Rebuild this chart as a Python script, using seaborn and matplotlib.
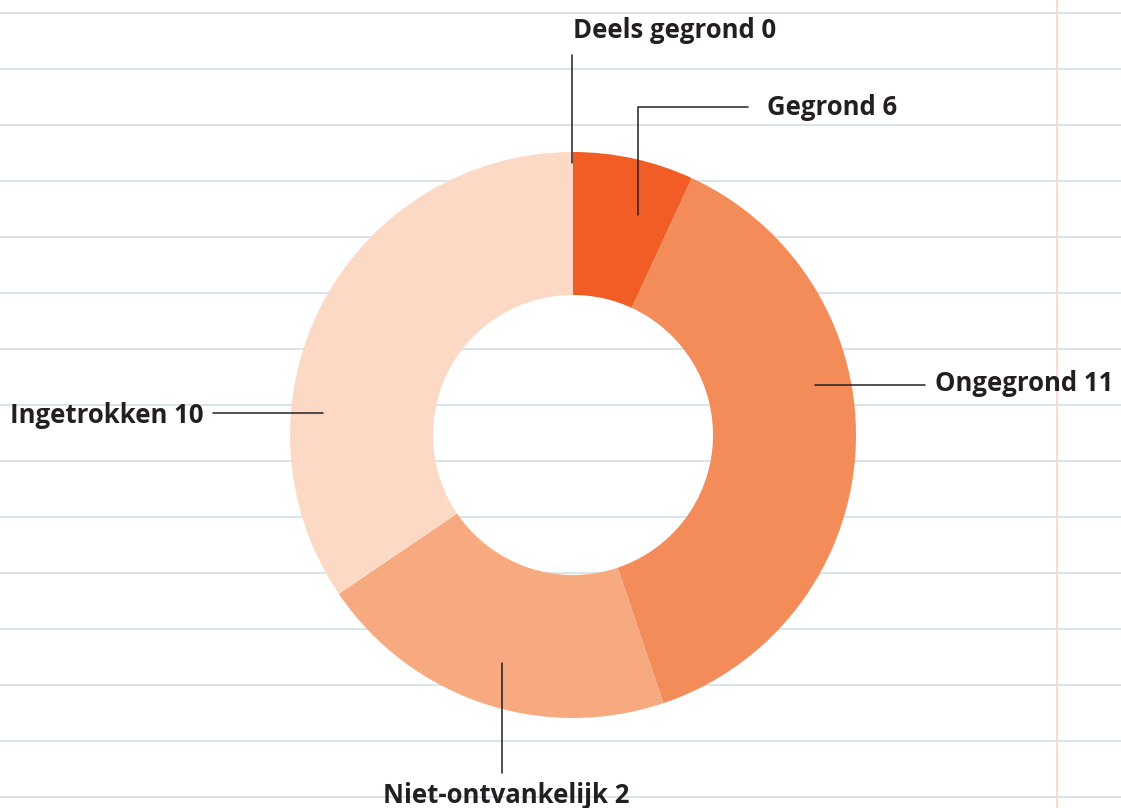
import matplotlib
matplotlib.use("Agg")
import matplotlib.pyplot as plt
import seaborn as sns

# data (slice sizes as drawn, label numbers as printed)
categories = ["Deels gegrond", "Gegrond", "Ongegrond", "Niet-ontvankelijk", "Ingetrokken"]
slice_values = [0, 2, 11, 6, 10]
label_numbers = [0, 6, 11, 2, 10]
colors = ["#F15D25", "#F15D25", "#F48C5A", "#F7AA80", "#FCD9C5"]

W, H = 1121, 808
sns.set_theme(style="white")
plt.rcParams["font.family"] = ["Open Sans", "DejaVu Sans"]

fig = plt.figure(figsize=(W / 100, H / 100), dpi=100)
ax = fig.add_axes([0, 0, 1, 1])

def py(y):
    # pixel row (from top) -> data y
    return H - y

# notebook paper background
for y in range(12, H, 56):
    ax.axhline(py(y + 0.5), color="#D3E0E5", lw=1.2, zorder=0)
ax.axvline(1057, color="#FBD3CB", lw=1.2, zorder=0)

ax.pie(slice_values, colors=colors, startangle=90, counterclock=False,
       center=(573, py(435)), radius=283,
       wedgeprops=dict(width=143, linewidth=0), frame=True)

ax.set_xlim(0, W)
ax.set_ylim(0, H)
ax.set_aspect("equal")
ax.axis("off")

labels = [f"{c} {n}" for c, n in zip(categories, label_numbers)]
line_kw = dict(color="#231F20", lw=1.1, zorder=3)
txt_kw = dict(color="#231F20", fontsize=18.5, fontweight="bold", zorder=4)

# Deels gegrond
ax.plot([572, 572], [py(55), py(163)], **line_kw)
ax.text(573, py(38), labels[0], ha="left", va="baseline", **txt_kw)
# Gegrond
ax.plot([638, 638, 748], [py(215), py(107), py(107)], **line_kw)
ax.text(767, py(115), labels[1], ha="left", va="baseline", **txt_kw)
# Ongegrond
ax.plot([815, 925], [py(385), py(385)], **line_kw)
ax.text(935, py(391), labels[2], ha="left", va="baseline", **txt_kw)
# Niet-ontvankelijk
ax.plot([502, 502], [py(663), py(773)], **line_kw)
ax.text(506, py(803), labels[3], ha="center", va="baseline", **txt_kw)
# Ingetrokken
ax.plot([213, 323], [py(413), py(413)], **line_kw)
ax.text(203, py(423), labels[4], ha="right", va="baseline", **txt_kw)

fig.savefig("out.png", dpi=100, facecolor="white")
